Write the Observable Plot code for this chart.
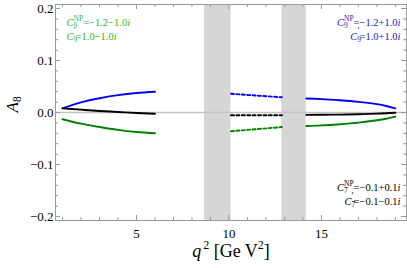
<!DOCTYPE html>
<html><head><meta charset="utf-8">
<script src="https://cdn.jsdelivr.net/npm/d3@7"></script>
<script src="https://cdn.jsdelivr.net/npm/@observablehq/plot@0.6"></script>
<style>html,body{margin:0;padding:0;background:#fff} svg{display:block}</style>
</head><body><div id="chart"></div>
<script>
// ---- data ----
const q1 = [1, 2, 3, 4, 5, 6];
const blue1 = [0.008, 0.0195, 0.0275, 0.0335, 0.0375, 0.0400];
const black1 = [0.008, 0.0055, 0.003, 0.001, -0.001, -0.0025];
const green1 = [-0.013, -0.0215, -0.028, -0.0335, -0.0375, -0.0400];

const q2 = [10.11, 11.5, 12.86];
const blue2 = [0.036, 0.0325, 0.0293];
const black2 = [-0.0052, -0.0052, -0.0052];
const green2 = [-0.036, -0.032, -0.028];

const q3 = [14.18, 15, 16, 17, 18, 18.5, 19.0];
const blue3 = [0.027, 0.0258, 0.0235, 0.0205, 0.0160, 0.0125, 0.0080];
const black3 = [-0.0045, -0.0043, -0.0040, -0.0033, -0.0022, -0.0014, -0.0004];
const green3 = [-0.026, -0.0248, -0.0225, -0.0195, -0.0150, -0.0120, -0.0080];

const bandStart = [8.68, 12.86];
const bandEnd = [10.11, 14.18];

const xMajor = [5, 10, 15];
const xMinor = [1, 2, 3, 4, 6, 7, 8, 9, 11, 12, 13, 14, 16, 17, 18, 19];
const yMajor = [-0.2, -0.1, 0, 0.1, 0.2];
const yMinor = [-0.18, -0.16, -0.14, -0.12, -0.08, -0.06, -0.04, -0.02,
                0.02, 0.04, 0.06, 0.08, 0.12, 0.14, 0.16, 0.18];

const greenNotes = ["C9NP=−1.2−1.0i", "C9′=1.0−1.0i"];
const blueNotes = ["C9NP=−1.2+1.0i", "C9′=1.0+1.0i"];
const blackNotes = ["C7NP=−0.1+0.1i", "C7′=−0.1−0.1i"];
const yLabel = "A8";
const xLabel = "q2 [GeV2]";

// ---- styling ----
const COL = {blue: "#0e0e98", black: "#000000", green: "#20ab20"};
const TXT = {blue: "#2424bc", black: "#000000", green: "#2cb62c"};
const W = 407, H = 268, ML = 55, MR = 1, MT = 4, MB = 48;
const FW = W - ML - MR, FH = H - MT - MB;

function rows(qs, vals, series) { return qs.map((q, i) => ({q, v: vals[i], series})); }
const solid = [
  ...rows(q1, blue1, "blue"), ...rows(q1, black1, "black"), ...rows(q1, green1, "green")
].map(d => ({...d, seg: "r1-" + d.series}))
 .concat([...rows(q3, blue3, "blue"), ...rows(q3, black3, "black"), ...rows(q3, green3, "green")]
 .map(d => ({...d, seg: "r3-" + d.series})));
const dashed = [...rows(q2, blue2, "blue"), ...rows(q2, black2, "black"), ...rows(q2, green2, "green")];
const bands = bandStart.map((s, i) => ({s, e: bandEnd[i]}));

const lineDy = {top: [18, 32], bottom: [-33, -19]};
function noteMarks(list, anchor, textAnchor, dx, fill, dys) {
  return list.map((t, i) => Plot.text([t], {text: d => d, frameAnchor: anchor, textAnchor, lineAnchor: "middle", dx, dy: dys[i], fill, fontSize: 10.5}));
}

const plot = Plot.plot({
  width: W, height: H,
  marginLeft: ML, marginRight: MR, marginTop: MT, marginBottom: MB,
  style: {fontFamily: "'Liberation Serif', 'Times New Roman', serif", fontSize: "12px", background: "#fff"},
  x: {domain: [0.62, 19.6]},
  y: {domain: [-0.2077, 0.2077]},
  color: {domain: ["blue", "black", "green"], range: [COL.blue, COL.black, COL.green]},
  marks: [
    Plot.rect(bands, {x1: "s", x2: "e", fill: "#d6d6d6"}),
    Plot.ruleY([0], {stroke: "#c4c4c4", strokeWidth: 1.6}),
    Plot.line(solid, {x: "q", y: "v", z: "seg", stroke: "series", strokeWidth: 1.9, curve: "natural"}),
    Plot.line(dashed, {x: "q", y: "v", z: "series", stroke: "series", strokeWidth: 1.9, strokeDasharray: "3,2.4", curve: "natural"}),
    Plot.frame({stroke: "#9a9a9a"}),
    // ticks (inward, all four sides)
    Plot.tickX(xMajor, {x: d => d, insetTop: FH - 5, stroke: "#9a9a9a"}),
    Plot.tickX(xMinor, {x: d => d, insetTop: FH - 3, stroke: "#9a9a9a"}),
    Plot.tickX(xMajor, {x: d => d, insetBottom: FH - 5, stroke: "#9a9a9a"}),
    Plot.tickX(xMinor, {x: d => d, insetBottom: FH - 3, stroke: "#9a9a9a"}),
    Plot.tickY(yMajor, {y: d => d, insetRight: FW - 5, stroke: "#9a9a9a"}),
    Plot.tickY(yMinor, {y: d => d, insetRight: FW - 3, stroke: "#9a9a9a"}),
    Plot.tickY(yMajor, {y: d => d, insetLeft: FW - 5, stroke: "#9a9a9a"}),
    Plot.tickY(yMinor, {y: d => d, insetLeft: FW - 3, stroke: "#9a9a9a"}),
    Plot.axisX(xMajor, {anchor: "bottom", tickSize: 0, tickPadding: 8, label: null, fontSize: 13}),
    Plot.axisY(yMajor, {anchor: "left", tickSize: 0, tickPadding: 2, label: null, fontSize: 13, tickFormat: d3.format(".1f")}),
    // annotations
    ...noteMarks(greenNotes, "top-left", "start", 11, TXT.green, lineDy.top),
    ...noteMarks(blueNotes, "top-right", "end", -6, TXT.blue, lineDy.top),
    ...noteMarks(blackNotes, "bottom-right", "end", -6, TXT.black, lineDy.bottom),
    Plot.text([yLabel], {text: d => d, frameAnchor: "left", lineAnchor: "middle", dx: -43, rotate: -90, fontSize: 17, fill: "black"}),
    Plot.text([xLabel], {text: d => d, frameAnchor: "bottom", lineAnchor: "middle", dy: 31, fontSize: 18, fill: "black"})
  ]
});
document.getElementById("chart").appendChild(plot);

// ---- rich text (sub/superscripts) ----
function build(el, parts) {
  const t = d3.select(el);
  t.text("");
  for (const p of parts) {
    const s = t.append("tspan").text(p.t);
    if (p.italic) s.attr("font-style", "italic");
    if (p.size) s.attr("font-size", p.size);
    if (p.dy) s.attr("dy", p.dy);
    if (p.dx) s.attr("dx", p.dx);
  }
}
const reNote = /^C(\d)(NP|′)=(.*)i$/;
d3.select(plot).selectAll("text").each(function() {
  if (this.querySelector("tspan")) return;
  const txt = this.textContent;
  const m = txt.match(reNote);
  if (m) {
    const np = m[2] === "NP";
    build(this, [
      {t: "C", italic: true},
      {t: m[1], size: 7.5, dy: 2.5},
      {t: m[2], size: np ? 7.5 : 9.5, dx: -3.7, dy: np ? -7 : -8},
      {t: "=" + m[3], dy: np ? 4.5 : 5.5},
      {t: "i", italic: true}
    ]);
  } else if (txt === yLabel) {
    build(this, [{t: "A", italic: true}, {t: "8", size: 11.5, dy: 3}]);
  } else if (txt === xLabel) {
    build(this, [{t: "q", italic: true}, {t: "2", size: 12, dy: -8, dx: 2}, {t: " [Ge V", dy: 8}, {t: "2", size: 12, dy: -8}, {t: "]", dy: 8}]);
  }
});
</script></body></html>
